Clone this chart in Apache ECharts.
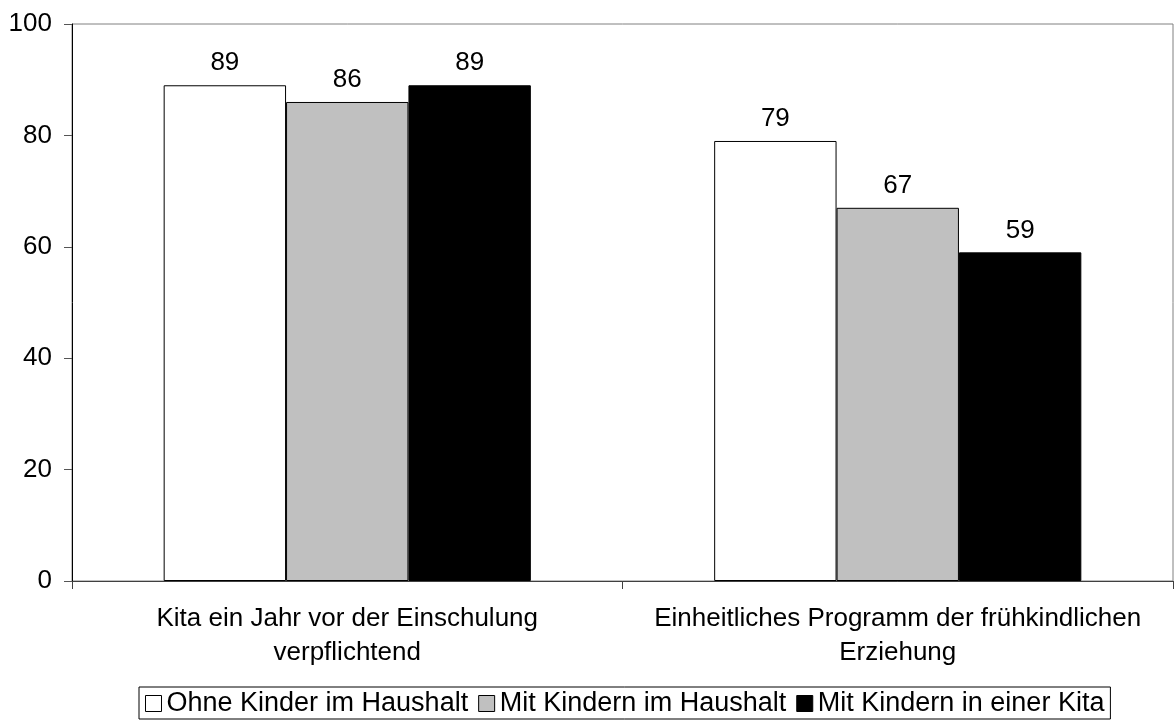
<!DOCTYPE html>
<html>
<head>
<meta charset="utf-8">
<script src="https://cdn.jsdelivr.net/npm/echarts@6/dist/echarts.min.js"></script>
<style>
  html, body { margin: 0; padding: 0; background: #fff; }
  #chart { width: 1175px; height: 720px; }
</style>
</head>
<body>
<div id="chart"></div>
<script>
var categories = [
    'Kita ein Jahr vor der Einschulung\nverpflichtend',
    'Einheitliches Programm der frühkindlichen\nErziehung'
];
var seriesNames = ['Ohne Kinder im Haushalt', 'Mit Kindern im Haushalt', 'Mit Kindern in einer Kita'];
var ohneKinder = [89, 79];
var mitKindern = [86, 67];
var mitKita = [89, 59];

var font = 'Liberation Sans, Arial, sans-serif';
var fills = ['#ffffff', '#c0c0c0', '#000000'];
var values = [ohneKinder, mitKindern, mitKita];

var series = seriesNames.map(function (name, i) {
    return {
        name: name,
        type: 'bar',
        data: values[i],
        barGap: '0%',
        barCategoryGap: '33.3%',
        itemStyle: { color: fills[i], borderColor: '#000', borderWidth: 1 },
        label: {
            show: true,
            position: 'top',
            distance: 9,
            color: '#000',
            fontFamily: font,
            fontSize: 26
        },
        emphasis: { disabled: true }
    };
});

var option = {
    animation: false,
    backgroundColor: '#fff',
    grid: {
        left: 72,
        right: 2,
        top: 24,
        bottom: 139,
        show: true,
        borderColor: '#808080',
        borderWidth: 1
    },
    legend: {
        top: 687,
        left: 139,
        data: seriesNames,
        borderColor: '#000',
        borderWidth: 1,
        padding: [3, 6, 2, 6],
        itemWidth: 16,
        itemHeight: 16,
        itemGap: 10,
        icon: 'rect',
        itemStyle: { borderColor: '#000', borderWidth: 1 },
        textStyle: { color: '#000', fontFamily: font, fontSize: 27 }
    },
    xAxis: {
        type: 'category',
        data: categories,
        axisLine: { lineStyle: { color: '#404040', width: 1 } },
        axisTick: { show: true, length: 8, lineStyle: { color: '#404040' } },
        axisLabel: {
            color: '#000',
            fontFamily: font,
            fontSize: 26,
            lineHeight: 34,
            margin: 21,
            interval: 0
        },
        splitLine: { show: false }
    },
    yAxis: {
        type: 'value',
        min: 0,
        max: 100,
        interval: 20,
        axisLine: { show: true, lineStyle: { color: '#000', width: 1 } },
        axisTick: { show: true, length: 8, lineStyle: { color: '#555' } },
        axisLabel: { color: '#000', fontFamily: font, fontSize: 26, margin: 20 },
        splitLine: { show: false }
    },
    series: series
};

var myChart = echarts.init(document.getElementById('chart'));
myChart.setOption(option);
</script>
</body>
</html>
